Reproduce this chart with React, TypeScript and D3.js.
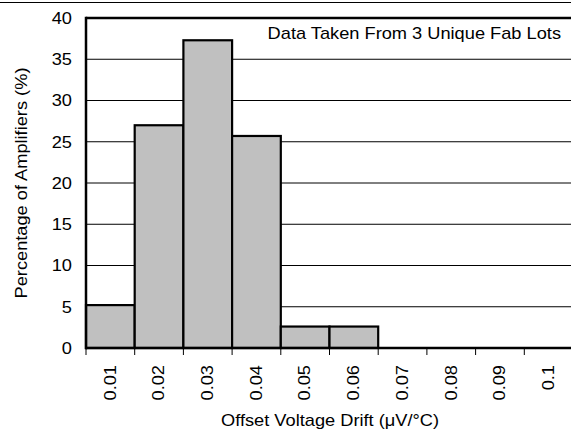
import React from "react";
import * as d3 from "d3";

const categories = ["0.01", "0.02", "0.03", "0.04", "0.05", "0.06", "0.07", "0.08", "0.09", "0.1"];
const percentages = [5.2, 27.0, 37.3, 25.7, 2.6, 2.6, 0, 0, 0, 0];
const yTicks = [0, 5, 10, 15, 20, 25, 30, 35, 40];
const annotation = "Data Taken From 3 Unique Fab Lots";
const xTitle = "Offset Voltage Drift (\u03bcV/\u00b0C)";
const yTitle = "Percentage of Amplifiers (%)";

const W = 571;
const H = 430;
const left = 86;
const right = 573;
const top = 18;
const bottom = 348;
const SX = 1.14;
const FONT = "'Liberation Sans', Arial, sans-serif";

export default function App() {
  const x = d3.scaleBand<string>().domain(categories).range([left, right]).padding(0);
  const y = d3.scaleLinear().domain([0, 40]).range([bottom, top]);
  const bw = x.bandwidth();

  return (
    <svg
      width={W}
      height={H}
      style={{ position: "absolute", left: 0, top: 0, background: "#fff" }}
      fontFamily={FONT}
    >
      <rect x={0} y={0} width={W} height={H} fill="#fff" />
      <line x1={0} x2={W} y1={2.5} y2={2.5} stroke="#000" strokeWidth={1} />
      {/* gridlines */}
      {yTicks.filter((t) => t > 0 && t < 40).map((t) => (
        <line key={t} x1={left} x2={W} y1={y(t)} y2={y(t)} stroke="#000" strokeWidth={1} />
      ))}
      {/* bars */}
      {categories.map((c, i) =>
        percentages[i] > 0 ? (
          <rect
            key={c}
            x={x(c)!}
            y={y(percentages[i])}
            width={bw}
            height={y(0) - y(percentages[i])}
            fill="#c0c0c0"
            stroke="#000"
            strokeWidth={2.2}
          />
        ) : null
      )}
      {/* frame */}
      <line x1={left} x2={W} y1={top} y2={top} stroke="#000" strokeWidth={2.5} />
      <line x1={left} x2={left} y1={top - 1.25} y2={bottom + 1.25} stroke="#000" strokeWidth={2.5} />
      <line x1={left} x2={W} y1={bottom} y2={bottom} stroke="#000" strokeWidth={2.5} />
      {/* x ticks */}
      {categories.map((c) => (
        <line key={c} x1={x(c)!} x2={x(c)!} y1={bottom} y2={bottom + 7} stroke="#000" strokeWidth={1} />
      ))}
      {/* y tick labels */}
      {yTicks.map((t) => (
        <g key={t} transform={`translate(72,${y(t)}) scale(${SX},1)`}>
          <text textAnchor="end" dy="0.36em" fontSize={16} fill="#000">
            {t}
          </text>
        </g>
      ))}
      {/* x tick labels */}
      {categories.map((c) => (
        <g key={c} transform={`translate(${x(c)! + bw / 2 - 0.5},365) rotate(-90) scale(${SX},1)`}>
          <text textAnchor="end" dy="0.36em" fontSize={16} fill="#000">
            {c}
          </text>
        </g>
      ))}
      {/* titles */}
      <g transform={`translate(330,426) scale(${SX},1)`}>
        <text textAnchor="middle" fontSize={16} fill="#000">
          {xTitle}
        </text>
      </g>
      <g transform={`translate(26.5,${(top + bottom) / 2}) rotate(-90) scale(${SX},1)`}>
        <text textAnchor="middle" fontSize={16} fill="#000">
          {yTitle}
        </text>
      </g>
      <g transform={`translate(561,39) scale(${SX},1)`}>
        <text textAnchor="end" fontSize={16} fill="#000">
          {annotation}
        </text>
      </g>
    </svg>
  );
}
